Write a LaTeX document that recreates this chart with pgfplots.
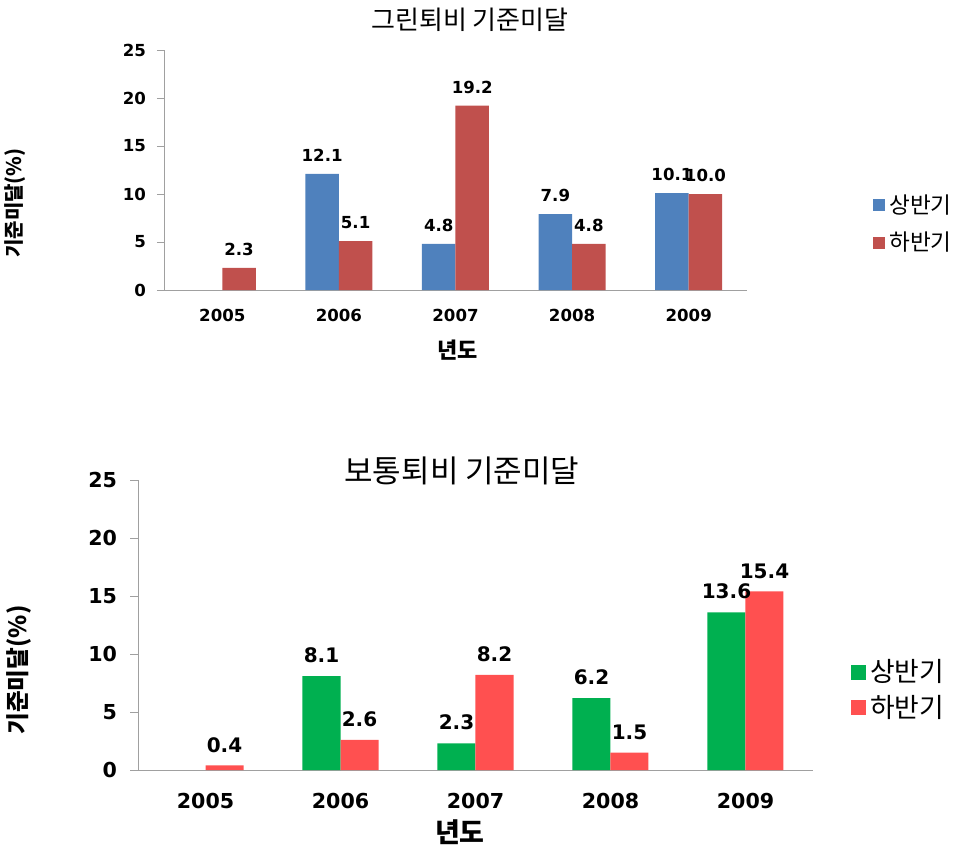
\documentclass[border=0pt]{standalone}
\usepackage{fontspec}
\setmainfont{Noto Sans CJK KR}
\newfontfamily\numfont{DejaVu Sans}
\usepackage{pgfplots}
\pgfplotsset{compat=1.18}
\definecolor{cblue}{HTML}{4F81BD}
\definecolor{cred}{HTML}{C0504D}
\definecolor{cgreen}{HTML}{00B050}
\definecolor{cred2}{HTML}{FF5050}
\definecolor{axgray}{HTML}{A0A0A0}
\pgfplotsset{
  mybars/.style={
    scale only axis,
    ybar=0pt,
    xmin=-0.5, xmax=4.5, ymin=0, ymax=25,
    xtick={0,...,4}, xticklabels={2005,2006,2007,2008,2009},
    ytick={0,5,...,25}, yticklabels={0,5,10,15,20,25},
    axis x line*=bottom, axis y line*=left,
    axis line style={axgray,-},
    tick style={axgray},
    major x tick style={draw=none},
    tick align=outside,
    enlargelimits=false,
    clip=false,
    nodes near coords={\pgfmathprintnumber[fixed,fixed zerofill,precision=1,assume math mode=true]{\pgfplotspointmeta}},
    legend cell align=left,
  }
}
\begin{document}
\begin{tikzpicture}
\path[use as bounding box] (0,0) rectangle (476.5pt,-423pt);
% ---------------- top chart ----------------
\begin{axis}[
  mybars,
  at={(82pt,-145pt)}, anchor=south west,
  width=291.5pt, height=120pt,
  bar width=16.75pt,
  major tick length=3.5pt,
  xticklabel style={font=\numfont\bfseries\fontsize{8.3}{10}\selectfont, yshift=-2.5pt},
  yticklabel style={font=\numfont\bfseries\fontsize{8.3}{10}\selectfont, xshift=-2pt},
  nodes near coords style={font=\numfont\bfseries\fontsize{8.3}{10}\selectfont, yshift=2.5pt, black},
  title={그린퇴비 기준미달},
  title style={at={(axis description cs:0.525,1.125)}, anchor=center, yshift=-6pt, font=\fontsize{13}{15}\selectfont},
  xlabel={\bfseries 년도},
  xlabel style={at={(axis description cs:0.504,-0.25)}, anchor=center, font=\fontsize{11}{13}\selectfont},
  ylabel={\bfseries 기준미달(\%)},
  ylabel style={at={(axis description cs:-0.255,0.3625)}, anchor=center, rotate=0, font=\fontsize{10}{12}\selectfont},
  legend image code/.code={\fill[#1] (0pt,-3pt) rectangle (6pt,3pt);},
  legend style={draw=none, fill=none, at={(axis description cs:1.216,0.275)}, anchor=west,
    font=\fontsize{11.3}{13}\selectfont, row sep=4pt, inner sep=0pt},
]
\addplot[fill=cblue, draw=none] coordinates {(1,12.1) (2,4.8) (3,7.9) (4,10.1)};
\addplot[fill=cred, draw=none] coordinates {(0,2.3) (1,5.1) (2,19.2) (3,4.8) (4,10.0)};
\legend{상반기,하반기}
\end{axis}
% ---------------- bottom chart ----------------
\begin{axis}[
  mybars,
  at={(69pt,-385pt)}, anchor=south west,
  width=337.5pt, height=145pt,
  bar width=19pt,
  major tick length=4pt,
  xticklabel style={font=\numfont\bfseries\fontsize{10.3}{12}\selectfont, yshift=-4pt},
  yticklabel style={font=\numfont\bfseries\fontsize{10.3}{12}\selectfont, xshift=-3pt},
  nodes near coords style={font=\numfont\bfseries\fontsize{10}{12}\selectfont, yshift=3pt, black},
  title={보통퇴비 기준미달},
  title style={at={(axis description cs:0.48,1.031)}, anchor=center, yshift=-6pt, font=\fontsize{15.5}{18}\selectfont},
  xlabel={\bfseries 년도},
  xlabel style={at={(axis description cs:0.477,-0.214)}, anchor=center, font=\fontsize{13.5}{16}\selectfont},
  ylabel={\bfseries 기준미달(\%)},
  ylabel style={at={(axis description cs:-0.176,0.345)}, anchor=center, rotate=0, font=\fontsize{11.8}{14}\selectfont},
  legend image code/.code={\fill[#1] (0pt,-3.75pt) rectangle (7.5pt,3.75pt);},
  legend style={draw=none, fill=none, at={(axis description cs:1.056,0.276)}, anchor=west,
    font=\fontsize{13.4}{16}\selectfont, row sep=5pt, inner sep=0pt,
    nodes={inner xsep=2pt, inner ysep=0pt, xshift=1.5pt}},
]
\addplot[fill=cgreen, draw=none] coordinates {(1,8.1) (2,2.3) (3,6.2) (4,13.6)};
\addplot[fill=cred2, draw=none] coordinates {(0,0.4) (1,2.6) (2,8.2) (3,1.5) (4,15.4)};
\legend{상반기,하반기}
\end{axis}
\end{tikzpicture}
\end{document}
